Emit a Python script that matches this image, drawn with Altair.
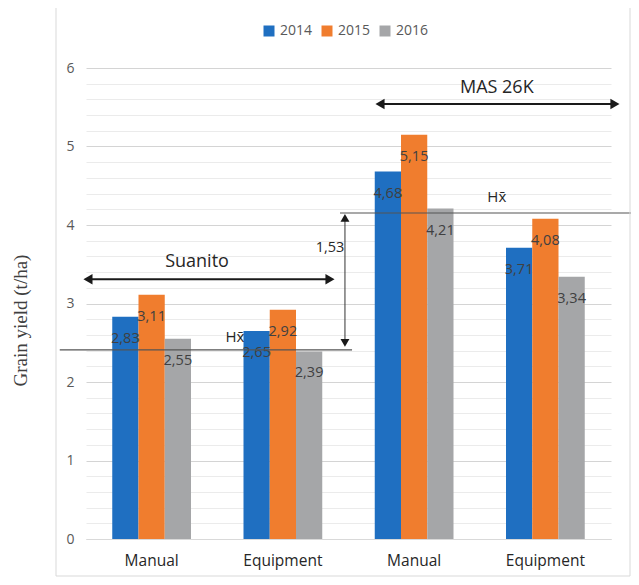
import altair as alt
import pandas as pd

# ---------------- data ----------------
groups = ["Suanito|Manual", "Suanito|Equipment", "MAS 26K|Manual", "MAS 26K|Equipment"]
years = ["2014", "2015", "2016"]
y2014 = [2.83, 2.65, 4.68, 3.71]
y2015 = [3.11, 2.92, 5.15, 4.08]
y2016 = [2.55, 2.39, 4.21, 3.34]
colors = ["#1f6fc1", "#f07d2e", "#a5a6a8"]

y_ticks = [0, 0.2, 0.4, 0.6, 0.8, 1, 1.2, 1.4, 1.6, 1.8, 2, 2.2, 2.4, 2.6, 2.8,
           3, 3.2, 3.4, 3.6, 3.8, 4, 4.2, 4.4, 4.6, 4.8, 5, 5.2, 5.4, 5.6, 5.8, 6]

# annotation positions in "group units" (group centres at 0,1,2,3)
harrow_name = ["Suanito", "MAS 26K"]
harrow_x1 = [-0.485, 1.74]
harrow_x2 = [1.359, 3.53]
harrow_y = [3.31, 5.54]
harrow_lbl_x = [0.346, 2.63]
harrow_lbl_y = [3.53, 5.745]

mean_x1 = [-0.70, 1.435]
mean_x2 = [1.527, 3.75]
mean_y = [2.41, 4.153]
mean_lbl_x = [0.635, 2.63]
mean_lbl_y = [2.57, 4.36]
mean_lbl = ["Hx\u0304", "Hx\u0304"]

diff_x = [1.473]
diff_y1 = [2.497]
diff_y2 = [4.09]
diff_lbl = ["1,53"]
diff_lbl_x = [1.359]
diff_lbl_y = [3.71]

# ---------------- tables ----------------
rows = []
for yr, vals in zip(years, [y2014, y2015, y2016]):
    for g, v in zip(groups, vals):
        rows.append({"group": g, "year": yr, "value": v})
df = pd.DataFrame(rows)

harrows = pd.DataFrame({"name": harrow_name, "x1": harrow_x1, "x2": harrow_x2, "y": harrow_y,
                        "lx": harrow_lbl_x, "ly": harrow_lbl_y})
means = pd.DataFrame({"x1": mean_x1, "x2": mean_x2, "y": mean_y,
                      "lx": mean_lbl_x, "ly": mean_lbl_y, "lbl": mean_lbl})
diff = pd.DataFrame({"x": diff_x, "y1": diff_y1, "y2": diff_y2, "lbl": diff_lbl,
                     "lx": diff_lbl_x, "ly": diff_lbl_y})

FONT = "Open Sans"
TXT = "#404040"
YTITLE = "Grain yield (t/ha)"
IS_INT = "abs(datum.value - round(datum.value)) < 0.001"

yscale = alt.Scale(domain=[0, 6], nice=False)
xband = alt.Scale(domain=groups, paddingInner=0.4, paddingOuter=0.2)
xq = alt.Scale(domain=[-0.5, 3.5], nice=False, zero=False)

y_axis = alt.Axis(values=y_ticks, tickCount=100, labelOverlap=False,
                  labelExpr=f"{IS_INT} ? format(datum.value, 'd') : ''",
                  ticks=False, domain=False, labelPadding=12, labelFontSize=14,
                  labelColor="#595959", labelFont=FONT,
                  gridColor=alt.condition(IS_INT, alt.value("#d4d4d4"), alt.value("#ebebeb")),
                  titleX=-66, titleY=252)
x_axis = alt.Axis(labelExpr="split(datum.value, '|')[1]", labelAngle=0, ticks=False,
                  domainColor="#d9d9d9", labelPadding=14, labelFontSize=15.5,
                  labelColor="#262626", labelFont=FONT, grid=False)


def Yq(field):
    return alt.Y(field, scale=yscale, axis=y_axis, title=YTITLE)


def Xb():
    return alt.X("group:N", scale=xband, sort=groups, axis=x_axis, title=None)


def Xq(field):
    return alt.X(field, scale=xq, axis=None)


xoff = alt.XOffset("year:N", scale=alt.Scale(paddingInner=0, paddingOuter=0))

bars = alt.Chart(df).mark_bar().encode(
    x=Xb(), xOffset=xoff, y=Yq("value:Q"),
    color=alt.Color("year:N", scale=alt.Scale(domain=years, range=colors),
                    legend=alt.Legend(orient="none", legendX=176, legendY=-44, direction="horizontal",
                                      title=None, symbolType="square", symbolSize=121,
                                      symbolStrokeWidth=0, labelFontSize=14, labelFont=FONT,
                                      labelColor="#595959", columnPadding=7, labelOffset=4)),
)

labels = alt.Chart(df).transform_calculate(
    lbl="replace(format(datum.value, '.2f'), '.', ',')"
).mark_text(dy=22, fontSize=14.5, font=FONT, color=TXT, baseline="middle").encode(
    x=Xb(), xOffset=xoff, y=Yq("value:Q"), text="lbl:N",
)

bar_layer = alt.layer(bars, labels)

# annotations
h_lines = alt.Chart(harrows).mark_rule(color="#1a1a1a", strokeWidth=2).encode(
    x=Xq("x1:Q"), x2="x2:Q", y=Yq("y:Q"))
h_left = alt.Chart(harrows).mark_point(shape="triangle-left", filled=True, color="#1a1a1a",
                                       size=110, opacity=1).encode(x=Xq("x1:Q"), y=Yq("y:Q"))
h_right = alt.Chart(harrows).mark_point(shape="triangle-right", filled=True, color="#1a1a1a",
                                        size=110, opacity=1).encode(x=Xq("x2:Q"), y=Yq("y:Q"))
h_text = alt.Chart(harrows).mark_text(fontSize=18, font=FONT, color="#262626").encode(
    x=Xq("lx:Q"), y=Yq("ly:Q"), text="name:N")

m_lines = alt.Chart(means).mark_rule(color="#555555", strokeWidth=1.2).encode(
    x=Xq("x1:Q"), x2="x2:Q", y=Yq("y:Q"))
m_text = alt.Chart(means).mark_text(fontSize=15, font=FONT, color="#262626").encode(
    x=Xq("lx:Q"), y=Yq("ly:Q"), text="lbl:N")

d_line = alt.Chart(diff).mark_rule(color="#333333", strokeWidth=1).encode(
    x=Xq("x:Q"), y=Yq("y1:Q"), y2="y2:Q")
d_up = alt.Chart(diff).mark_point(shape="triangle-up", filled=True, color="#1a1a1a",
                                  size=80, opacity=1).encode(x=Xq("x:Q"), y=Yq("y2:Q"))
d_down = alt.Chart(diff).mark_point(shape="triangle-down", filled=True, color="#1a1a1a",
                                    size=80, opacity=1).encode(x=Xq("x:Q"), y=Yq("y1:Q"))
d_text = alt.Chart(diff).mark_text(fontSize=14.5, font=FONT, color="#262626").encode(
    x=Xq("lx:Q"), y=Yq("ly:Q"), text="lbl:N")

# chart-area frame (decorative)
frame_df = pd.DataFrame({"k": [0]})
frame_l = alt.Chart(frame_df).mark_rule(color="#d9d9d9", strokeWidth=1).encode(
    x=alt.value(-30), y=alt.value(-60), y2=alt.value(508))
frame_r = alt.Chart(frame_df).mark_rule(color="#d9d9d9", strokeWidth=1).encode(
    x=alt.value(544), y=alt.value(-60), y2=alt.value(508))
frame_b = alt.Chart(frame_df).mark_rule(color="#d9d9d9", strokeWidth=1).encode(
    x=alt.value(-30), x2=alt.value(544), y=alt.value(508))

ann_layer = alt.layer(m_lines, m_text, d_line, d_up, d_down, d_text,
                      h_lines, h_left, h_right, h_text, frame_l, frame_r, frame_b)

chart = alt.layer(bar_layer, ann_layer).resolve_scale(x="independent").properties(
    width=525, height=471,
    padding={"left": 78, "top": 60, "right": 20, "bottom": 38},
    autosize=alt.AutoSizeParams(type="none"),
).configure_view(stroke=None).configure_axisY(
    titleFont="Liberation Serif", titleFontSize=19, titleFontWeight="normal",
    titleColor=TXT, titleAlign="center", titleBaseline="middle",
)

chart.save("out.html", embed_options={"renderer": "svg", "actions": False})
